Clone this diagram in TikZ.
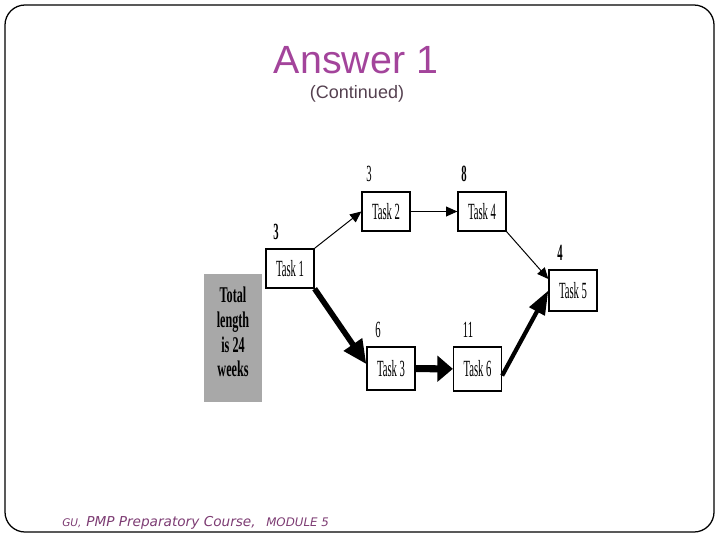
\documentclass[tikz,border=0pt]{standalone}
\usepackage{fontspec}
\setmainfont{Liberation Serif}
\setsansfont{Liberation Sans}
\newfontfamily\narrowserif[FakeStretch=0.46]{Liberation Serif}
\newfontfamily\boxserif[FakeStretch=0.54]{Liberation Serif}
\newfontfamily\footfont{DejaVu Sans}
\definecolor{ansPurple}{RGB}{163, 68, 155}
\definecolor{ansGray}{RGB}{85, 65, 80}
\definecolor{footPurple}{RGB}{125, 60, 115}
\definecolor{boxGray}{RGB}{168, 168, 168}
\usetikzlibrary{arrows.meta, calc}

\begin{document}
\begin{tikzpicture}[x=0.025cm, y=-0.025cm,
  taskbox/.style={draw, line width=0.9pt, fill=white, minimum width=1.2cm, minimum height=0.98cm, inner sep=0pt, font=\narrowserif\fontsize{16.5}{16.5}\selectfont},
  numlbl/.style={inner sep=0pt, font=\narrowserif\fontsize{16.5}{16.5}\selectfont},
  boldlbl/.style={numlbl, font=\narrowserif\bfseries\fontsize{16.5}{16.5}\selectfont},
  thinarr/.style={line width=0.7pt, -{Triangle[length=8pt, width=7pt]}},
  footer/.style={anchor=base west, inner sep=0pt, text=footPurple}]
  \useasboundingbox (0,0) rectangle (720,540);
  \draw[line width=0.9pt, rounded corners=0.5cm] (5,5) rectangle (714,532);
  \node[font=\sffamily\fontsize{28}{28}\selectfont, text=ansPurple] (title) at (356,60) {Answer 1};
  \node[font=\sffamily\fontsize{12.8}{13}\selectfont, text=ansGray] (subtitle) at (357,94) {(Continued)};

  \node[fill=boxGray, minimum width=1.45cm, minimum height=3.2cm] (total) at (233,338) {};
  \node[align=center, font=\boxserif\bfseries\fontsize{16}{17.6}\selectfont] (totaltxt) at (233,332) {Total\\length\\is 24\\weeks};

  \node[taskbox] (t1) at (290,268.5) {Task 1};
  \node[taskbox] (t2) at (386,211.5) {Task 2};
  \node[taskbox] (t4) at (482,211.5) {Task 4};
  \node[taskbox, minimum height=1.03cm] (t5) at (573,290.5) {Task 5};
  \node[taskbox, minimum height=1.08cm] (t3) at (391,368.5) {Task 3};
  \node[taskbox, minimum height=1.1cm] (t6) at (477.5,369) {Task 6};

  \node[boldlbl] (n1) at (276,232) {3};
  \node[numlbl] (n2) at (369,174) {3};
  \node[boldlbl] (n4) at (464,174) {8};
  \node[boldlbl] (n5) at (560,253) {4};
  \node[numlbl] (n3) at (378,330) {6};
  \node[numlbl] (n6) at (468,330) {11};

  \draw[thinarr] (t1.north east) -- (t2.west);
  \draw[thinarr] (t2) -- (t4);
  \draw[thinarr] (t4.south east) -- (t5.155);
  \draw[line width=4pt, -{Triangle[length=17pt, width=15pt]}] (t1.south east) -- (t3.170);
  \draw[line width=5pt, -{Triangle[length=11pt, width=18pt]}] (t3) -- (t6);
  \draw[line width=3pt, -{Triangle[length=17pt, width=12pt]}] (t6.-15) -- (t5.west);

  \node[footer, font=\footfont\itshape\fontsize{7.5}{8}\selectfont] (gu) at (62,526) {GU,};
  \node[footer, font=\footfont\itshape\fontsize{9.7}{10}\selectfont] (course) at (86,526) {PMP Preparatory Course,};
  \node[footer, font=\footfont\itshape\fontsize{8.4}{9}\selectfont] (module) at (266,526) {MODULE 5};
\end{tikzpicture}
\end{document}
